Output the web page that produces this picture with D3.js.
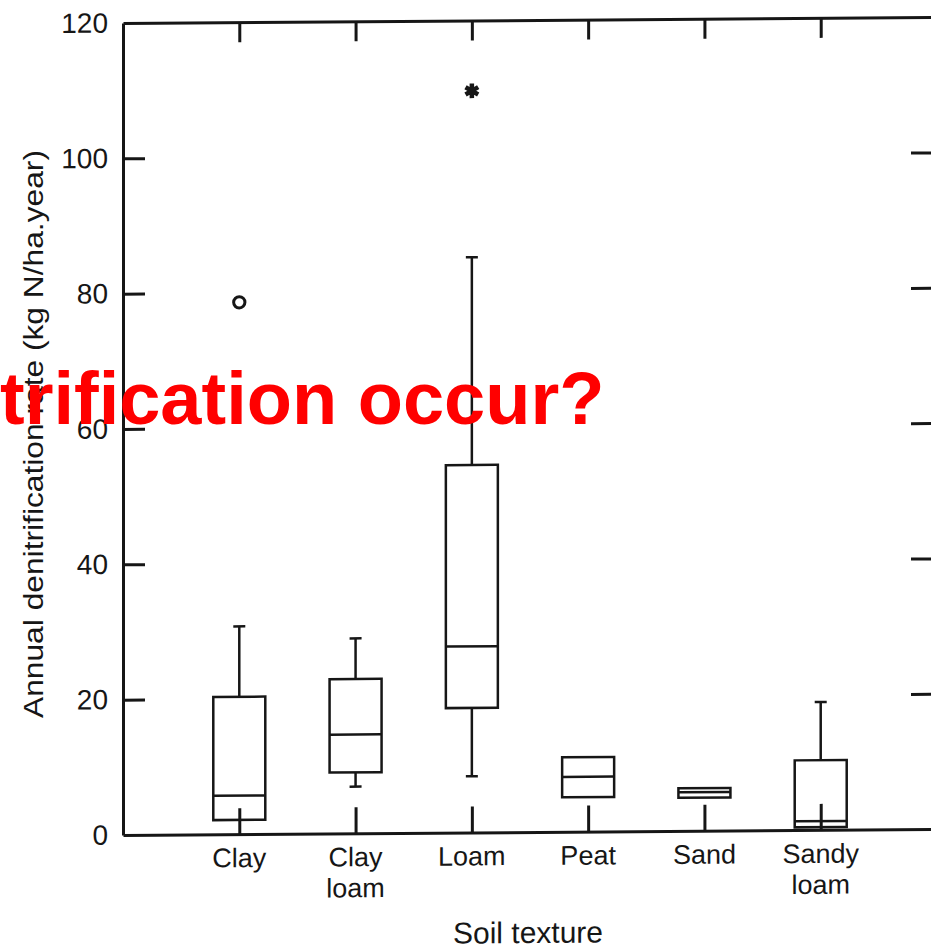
<!DOCTYPE html>
<meta charset="utf-8">
<style>

    body {
        margin: 0;
        background-color: #ffffff;
    }

    text {
        font-family: "Liberation Sans", Arial, sans-serif;
        fill: #161616;
    }

    .axis path,
    .axis line {
        stroke: #161616;
        stroke-width: 3;
    }

    .box rect,
    .box line {
        stroke: #161616;
        stroke-width: 2.5;
        fill: none;
    }

    .overlay {
        fill: #ff0000;
        font-weight: bold;
    }

</style>
<body>
<script src="https://cdnjs.cloudflare.com/ajax/libs/d3/7.8.5/d3.min.js"></script>
<script>

    // values (kg N/ha.year)
    var categories = ["Clay", "Clay loam", "Loam", "Peat", "Sand", "Sandy loam"];
    var whiskerLow = [2.1, 6.9, 8.3, 5.1, 4.9, 0.4];
    var q1 =         [2.1, 9.0, 18.4, 5.1, 4.9, 0.4];
    var median =     [5.7, 14.6, 27.5, 8.1, 5.7, 1.3];
    var q3 =         [20.3, 22.8, 54.3, 11.0, 6.3, 10.3];
    var whiskerHigh = [30.7, 28.8, 85.0, 11.0, 6.3, 18.9];

    var outlierCat = ["Clay", "Loam"];
    var outlierVal = [78.6, 109.6];
    var outlierType = ["circle", "star"];

    var yTicks = [0, 20, 40, 60, 80, 100, 120];

    var width = 931, height = 950;
    var frame = {left: 123, top: 23, bottom: 835, right: 937};

    var x = d3.scaleLinear()
            .domain([0, categories.length + 1])
            .range([frame.left, frame.right]);

    var y = d3.scaleLinear()
            .domain([0, 120])
            .range([frame.bottom, frame.top]);

    var pos = function(c) { return x(categories.indexOf(c) + 1); };

    var svg = d3.select("body").append("svg")
            .attr("width", width)
            .attr("height", height);

    // the scanned figure leans slightly: right side sits a few pixels higher
    var g = svg.append("g")
            .attr("transform", "translate(" + frame.left + ",0) skewY(-0.42) translate(" + (-frame.left) + ",0)");

    var catTicks = categories.map(function(d, i) { return i + 1; });

    g.append("g")
            .attr("class", "axis")
            .attr("transform", "translate(" + frame.left + ",0)")
            .call(d3.axisLeft(y).tickValues(yTicks).tickSize(-22).tickSizeOuter(0).tickPadding(15))
            .call(function(s) {
                s.selectAll("text").style("font-size", "28px").attr("fill", "#161616");
                s.selectAll(".tick").filter(function(d) { return d === 0 || d === 120; }).select("line").remove();
            });

    g.append("g")
            .attr("class", "axis")
            .attr("transform", "translate(" + frame.right + ",0)")
            .call(d3.axisRight(y).tickValues(yTicks.slice(1, -1)).tickSize(-26).tickSizeOuter(0).tickFormat(""));

    g.append("g")
            .attr("class", "axis")
            .attr("transform", "translate(0," + frame.bottom + ")")
            .call(d3.axisBottom(x).tickValues(catTicks).tickSize(-26).tickSizeOuter(0).tickFormat(""));

    g.append("g")
            .attr("class", "axis")
            .attr("transform", "translate(0," + frame.top + ")")
            .call(d3.axisTop(x).tickValues(catTicks).tickSize(-20).tickSizeOuter(0).tickFormat(""));

    // boxes
    var boxW = 52, capW = 12;
    var box = g.selectAll("g.box")
            .data(categories)
        .enter().append("g")
            .attr("class", "box");

    box.append("line")
            .attr("x1", pos).attr("x2", pos)
            .attr("y1", function(d, i) { return y(q3[i]); })
            .attr("y2", function(d, i) { return y(whiskerHigh[i]); });

    box.append("line")
            .attr("x1", pos).attr("x2", pos)
            .attr("y1", function(d, i) { return y(q1[i]); })
            .attr("y2", function(d, i) { return y(whiskerLow[i]); });

    box.append("line")
            .attr("x1", function(d) { return pos(d) - capW / 2; })
            .attr("x2", function(d) { return pos(d) + capW / 2; })
            .attr("y1", function(d, i) { return y(whiskerHigh[i]); })
            .attr("y2", function(d, i) { return y(whiskerHigh[i]); })
            .style("display", function(d, i) { return whiskerHigh[i] > q3[i] ? null : "none"; });

    box.append("line")
            .attr("x1", function(d) { return pos(d) - capW / 2; })
            .attr("x2", function(d) { return pos(d) + capW / 2; })
            .attr("y1", function(d, i) { return y(whiskerLow[i]); })
            .attr("y2", function(d, i) { return y(whiskerLow[i]); })
            .style("display", function(d, i) { return whiskerLow[i] < q1[i] ? null : "none"; });

    box.append("rect")
            .attr("x", function(d) { return pos(d) - boxW / 2; })
            .attr("width", boxW)
            .attr("y", function(d, i) { return y(q3[i]); })
            .attr("height", function(d, i) { return y(q1[i]) - y(q3[i]); });

    box.append("line")
            .attr("x1", function(d) { return pos(d) - boxW / 2; })
            .attr("x2", function(d) { return pos(d) + boxW / 2; })
            .attr("y1", function(d, i) { return y(median[i]); })
            .attr("y2", function(d, i) { return y(median[i]); });

    // outliers
    g.selectAll("path.outlier")
            .data(outlierCat)
        .enter().append("path")
            .attr("class", "outlier")
            .attr("transform", function(d, i) { return "translate(" + pos(d) + "," + y(outlierVal[i]) + ")"; })
            .attr("d", function(d, i) {
                return outlierType[i] === "circle"
                    ? d3.symbol(d3.symbolCircle, 100)()
                    : d3.symbol(d3.symbolAsterisk, 150)();
            })
            .attr("fill", "none")
            .attr("stroke", "#161616")
            .attr("stroke-width", function(d, i) { return outlierType[i] === "circle" ? 3 : 4.5; });

    // category labels, split on space into two lines
    g.selectAll("text.cat")
            .data(categories)
        .enter().append("text")
            .attr("class", "cat")
            .attr("text-anchor", "middle")
            .style("font-size", "27px")
            .each(function(d) {
                var t = d3.select(this);
                d.split(" ").forEach(function(w, j) {
                    t.append("tspan")
                        .attr("x", pos(d))
                        .attr("y", 868 + j * 31)
                        .text(w);
                });
            });

    g.append("text")
            .attr("x", (frame.left + frame.right) / 2 - 2)
            .attr("y", 946)
            .attr("text-anchor", "middle")
            .style("font-size", "30px")
            .text("Soil texture");

    svg.append("text")
            .attr("transform", "translate(43,434) rotate(-90)")
            .attr("text-anchor", "middle")
            .attr("textLength", 568)
            .attr("lengthAdjust", "spacingAndGlyphs")
            .style("font-size", "27px")
            .text("Annual denitrification rate (kg N/ha.year)");

    // red caption overlaid on the scan
    svg.append("text")
            .attr("class", "overlay")
            .attr("x", 0)
            .attr("y", 424)
            .style("font-size", "74px")
            .text("trification occur?");

</script>
